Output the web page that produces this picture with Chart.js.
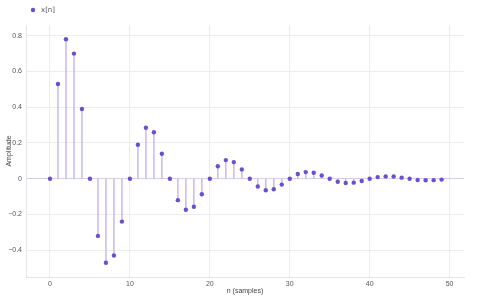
<html>
<head>
  <meta charset="utf-8">
  <title>x[n] stem plot</title>
  <script src="https://cdn.jsdelivr.net/npm/chart.js"></script>
  <style>
    body { margin: 0; background: white; }
    .wrap { width: 480px; height: 300px; }
  </style>
</head>
<body>
<div class="wrap"><canvas id="stem"></canvas></div>
<script>
const samples = [];
for (let i = 0; i < 50; i++) samples.push(i);
const amplitude = [
  0, 0.53, 0.78, 0.70, 0.39, 0, -0.32, -0.47, -0.43, -0.24,
  0, 0.19, 0.285, 0.26, 0.14, 0, -0.12, -0.174, -0.157, -0.087,
  0, 0.07, 0.104, 0.093, 0.052, 0, -0.044, -0.065, -0.059, -0.033,
  0, 0.026, 0.037, 0.033, 0.018, 0, -0.017, -0.024, -0.022, -0.013,
  0, 0.009, 0.013, 0.012, 0.006, 0, -0.007, -0.009, -0.008, -0.005
];
const yTicks = [-0.4, -0.2, 0, 0.2, 0.4, 0.6, 0.8];
const xTicks = [0, 10, 20, 30, 40, 50];

const markColor = '#6a4fcf';
const stemColor = '#c8b9ec';

const points = samples.map((n, i) => ({ x: n, y: amplitude[i] }));
// each stem: from 0 up to the value, then a gap
const stems = [];
samples.forEach((n, i) => {
  stems.push({ x: n, y: 0 }, { x: n, y: amplitude[i] }, { x: n, y: null });
});

const legendPlugin = {
  id: 'miniLegend',
  afterDraw(chart) {
    const ctx = chart.ctx;
    ctx.save();
    ctx.fillStyle = markColor;
    ctx.beginPath();
    ctx.arc(33, 10, 2.2, 0, Math.PI * 2);
    ctx.fill();
    ctx.fillStyle = '#555';
    ctx.font = '7px "DejaVu Sans", sans-serif';
    ctx.textBaseline = 'middle';
    ctx.fillText('x[n]', 41, 10.5);
    ctx.restore();
  }
};

new Chart(document.getElementById('stem'), {
  type: 'scatter',
  data: {
    datasets: [{
      label: 'x[n]',
      data: points,
      backgroundColor: markColor,
      borderColor: markColor,
      pointRadius: 2.2,
      borderWidth: 0,
      order: 0
    }, {
      label: 'stems',
      type: 'line',
      data: stems,
      showLine: true,
      spanGaps: false,
      borderColor: stemColor,
      borderWidth: 1.5,
      pointRadius: 0,
      order: 1
    }]
  },
  options: {
    responsive: true,
    maintainAspectRatio: false,
    animation: false,
    layout: { padding: { top: 25, left: 0, right: 16, bottom: 0 } },
    plugins: {
      legend: { display: false },
      tooltip: { enabled: false }
    },
    scales: {
      x: {
        type: 'linear',
        min: -3,
        max: 51.8,
        afterFit: s => { s.height = 23; },
        afterBuildTicks: s => { s.ticks = xTicks.map(v => ({ value: v })); },
        grid: { color: '#ececf0', drawTicks: false },
        border: { color: '#e4e4ea' },
        ticks: { padding: 3, color: '#555', font: { size: 7 } },
        title: { display: true, text: 'n (samples)', color: '#444', font: { size: 7 }, padding: { top: 0, bottom: 5 } }
      },
      y: {
        min: -0.55,
        max: 0.86,
        afterFit: s => { s.width = 26; },
        afterBuildTicks: s => { s.ticks = yTicks.map(v => ({ value: v })); },
        grid: {
          color: ctx => ctx.tick && ctx.tick.value === 0 ? '#d6cdee' : '#ececf0',
          drawTicks: false
        },
        border: { color: '#e4e4ea' },
        ticks: { padding: 4, color: '#555', font: { size: 7 }, callback: v => v === 0 ? '0' : (v < 0 ? '\u2212' + Math.abs(v) : String(v)) },
        title: { display: true, text: 'Amplitude', color: '#444', font: { size: 7 }, padding: { top: 5, bottom: 0 } }
      }
    }
  },
  plugins: [legendPlugin]
});
</script>
</body>
</html>
